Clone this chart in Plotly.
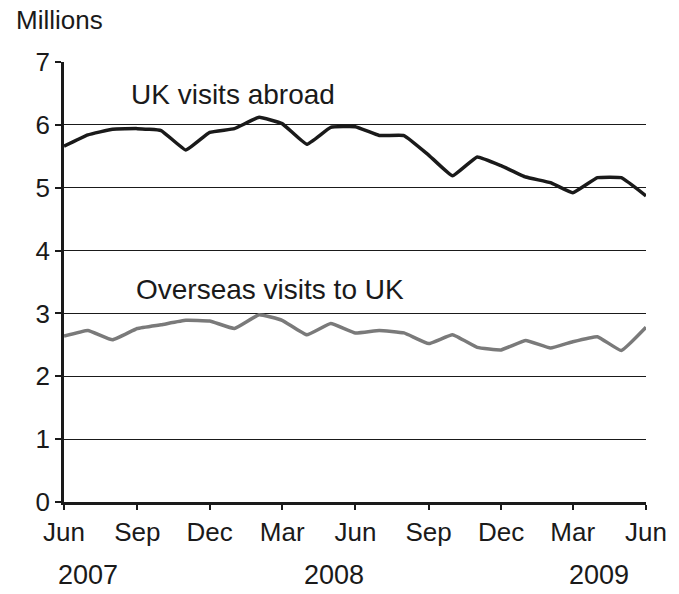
import plotly.graph_objects as go

months = ["2007-06-01", "2007-07-01", "2007-08-01", "2007-09-01", "2007-10-01",
          "2007-11-01", "2007-12-01", "2008-01-01", "2008-02-01", "2008-03-01",
          "2008-04-01", "2008-05-01", "2008-06-01", "2008-07-01", "2008-08-01",
          "2008-09-01", "2008-10-01", "2008-11-01", "2008-12-01", "2009-01-01",
          "2009-02-01", "2009-03-01", "2009-04-01", "2009-05-01", "2009-06-01"]

uk_abroad = [5.66, 5.84, 5.93, 5.94, 5.91, 5.60, 5.88, 5.94, 6.12, 6.02,
             5.69, 5.96, 5.97, 5.83, 5.83, 5.52, 5.19, 5.49, 5.35, 5.17,
             5.08, 4.92, 5.16, 5.16, 4.87]

overseas_to_uk = [2.64, 2.73, 2.58, 2.76, 2.82, 2.89, 2.88, 2.76, 2.98, 2.89,
                  2.66, 2.84, 2.69, 2.73, 2.69, 2.52, 2.66, 2.46, 2.42, 2.57,
                  2.45, 2.55, 2.63, 2.41, 2.78]

tick_dates = ["2007-06-01", "2007-09-01", "2007-12-01", "2008-03-01", "2008-06-01",
              "2008-09-01", "2008-12-01", "2009-03-01", "2009-06-01"]
tick_labels = ["Jun", "Sep", "Dec", "Mar", "Jun", "Sep", "Dec", "Mar", "Jun"]
years = ["2007", "2008", "2009"]
year_pos = [0.042, 0.4636, 0.92]

FONT = "Liberation Sans, Arial, sans-serif"
INK = "#1a1a1a"

fig = go.Figure()
fig.add_trace(go.Scatter(x=months, y=uk_abroad, mode="lines",
                         line=dict(color=INK, width=3.5, shape="spline", smoothing=0.3),
                         name="UK visits abroad", hoverinfo="x+y"))
fig.add_trace(go.Scatter(x=months, y=overseas_to_uk, mode="lines",
                         line=dict(color="#7a7a7a", width=3.5, shape="spline", smoothing=0.3),
                         name="Overseas visits to UK", hoverinfo="x+y"))

annotations = [
    dict(text="Millions", xref="paper", yref="paper", x=-0.0867, y=1.096,
         xanchor="left", yanchor="middle", showarrow=False,
         font=dict(size=26, color=INK, family=FONT)),
    dict(text="UK visits abroad", xref="paper", yref="paper", x=0.112, y=0.9266,
         xanchor="left", yanchor="middle", showarrow=False,
         font=dict(size=28, color=INK, family=FONT)),
    dict(text="Overseas visits to UK", xref="paper", yref="paper", x=0.1207, y=0.4829,
         xanchor="left", yanchor="middle", showarrow=False,
         font=dict(size=28, color=INK, family=FONT)),
]
for yr, xp in zip(years, year_pos):
    annotations.append(dict(text=yr, xref="paper", yref="paper", x=xp, y=-0.166,
                            xanchor="center", yanchor="middle", showarrow=False,
                            font=dict(size=27, color=INK, family=FONT)))

fig.update_layout(
    width=679, height=594,
    margin=dict(l=64, r=27, t=62, b=92),
    paper_bgcolor="white", plot_bgcolor="white",
    showlegend=False,
    font=dict(family=FONT, size=26, color=INK),
    annotations=annotations,
)
fig.update_xaxes(
    type="date",
    range=["2007-06-01", "2009-06-01"],
    tickmode="array", tickvals=tick_dates, ticktext=tick_labels,
    ticks="outside", ticklen=5, tickwidth=2, tickcolor=INK,
    showline=True, linecolor=INK, linewidth=2.5,
    showgrid=False, zeroline=False,
    tickfont=dict(size=26, family=FONT, color=INK),
)
fig.update_yaxes(
    range=[0, 7], tickmode="array", tickvals=[0, 1, 2, 3, 4, 5, 6, 7],
    ticks="outside", ticklen=6, tickwidth=1.5, tickcolor=INK,
    showline=True, linecolor=INK, linewidth=2.5,
    showgrid=True, gridcolor=INK, gridwidth=1,
    zeroline=False,
    tickfont=dict(size=26, family=FONT, color=INK),
)

# remove the browser's default 8px body margin so the figure fills the window exactly
fig.write_html("out.html", config={"displayModeBar": False},
               post_script="document.body.style.margin='0';")
